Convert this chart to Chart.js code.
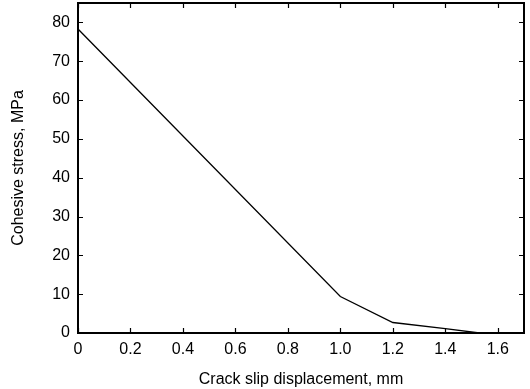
<!DOCTYPE html>
<html>
<head>
<meta charset="utf-8">
<script src="https://cdn.jsdelivr.net/npm/chart.js@4/dist/chart.umd.min.js"></script>
<style>
  html, body { margin: 0; padding: 0; background: #fff; }
  #wrap { width: 530px; height: 389px; }
</style>
</head>
<body>
<div id="wrap"><canvas id="stressChart"></canvas></div>
<script>
// values
const slip = [0, 1.0, 1.2, 1.4, 1.53];
const stress = [78.3, 9.4, 2.7, 1.1, 0];
const xTicks = [0, 0.2, 0.4, 0.6, 0.8, 1.0, 1.2, 1.4, 1.6];
const yTicks = [0, 10, 20, 30, 40, 50, 60, 70, 80];

const font = { family: 'Liberation Sans, Arial, Helvetica, sans-serif', size: 16 };

// ticks pointing inward on all four sides of the frame
const frameTicks = {
    id: 'frameTicks',
    afterDraw(chart) {
        const { ctx, chartArea: a, scales } = chart;
        const len = 5;
        ctx.save();
        ctx.strokeStyle = '#000';
        ctx.lineWidth = 1.2;
        ctx.beginPath();
        xTicks.forEach((v) => {
            const px = Math.round(scales.x.getPixelForValue(v)) + 0.5;
            ctx.moveTo(px, a.bottom); ctx.lineTo(px, a.bottom - len);
            ctx.moveTo(px, a.top); ctx.lineTo(px, a.top + len);
        });
        yTicks.forEach((v) => {
            const py = Math.round(scales.y.getPixelForValue(v)) + 0.5;
            ctx.moveTo(a.left, py); ctx.lineTo(a.left + len, py);
            ctx.moveTo(a.right, py); ctx.lineTo(a.right - len, py);
        });
        ctx.stroke();
        ctx.lineWidth = 2;
        ctx.strokeRect(a.left, a.top, a.right - a.left, a.bottom - a.top);
        ctx.restore();
    }
};

new Chart(document.getElementById('stressChart').getContext('2d'), {
    type: 'line',
    data: {
        datasets: [{
            data: slip.map((x, i) => ({ x: x, y: stress[i] })),
            borderColor: '#000',
            borderWidth: 1.3,
            pointRadius: 0,
            tension: 0,
            fill: false
        }]
    },
    options: {
        responsive: true,
        maintainAspectRatio: false,
        animation: false,
        layout: { padding: { top: 3, right: 6, left: 0, bottom: 0 } },
        plugins: { legend: { display: false }, tooltip: { enabled: false } },
        scales: {
            x: {
                type: 'linear',
                min: 0,
                max: 1.7,
                afterBuildTicks: (scale) => { scale.ticks = xTicks.map((v) => ({ value: v })); },
                afterFit: (scale) => {
                    scale.height = 56;
                    scale.paddingLeft = 0;
                    scale.paddingRight = 0;
                },
                grid: { display: false, drawTicks: false },
                border: { display: false },
                ticks: {
                    color: '#000',
                    font: font,
                    padding: 7,
                    maxRotation: 0,
                    callback: (v) => (v === 0 ? '0' : v.toFixed(1))
                },
                title: {
                    display: true,
                    text: 'Crack slip displacement, mm',
                    color: '#000',
                    font: font,
                    padding: { top: 1, bottom: 0 }
                }
            },
            y: {
                min: 0,
                max: 85,
                afterBuildTicks: (scale) => { scale.ticks = yTicks.map((v) => ({ value: v })); },
                afterFit: (scale) => {
                    scale.width = 78;
                    scale.paddingTop = 0;
                    scale.paddingBottom = 0;
                },
                grid: { display: false, drawTicks: false },
                border: { display: false },
                ticks: { color: '#000', font: font, padding: 8 },
                title: {
                    display: true,
                    text: 'Cohesive stress, MPa',
                    color: '#000',
                    font: font,
                    padding: { top: 9, bottom: 0 }
                }
            }
        }
    },
    plugins: [frameTicks]
});
</script>
</body>
</html>
